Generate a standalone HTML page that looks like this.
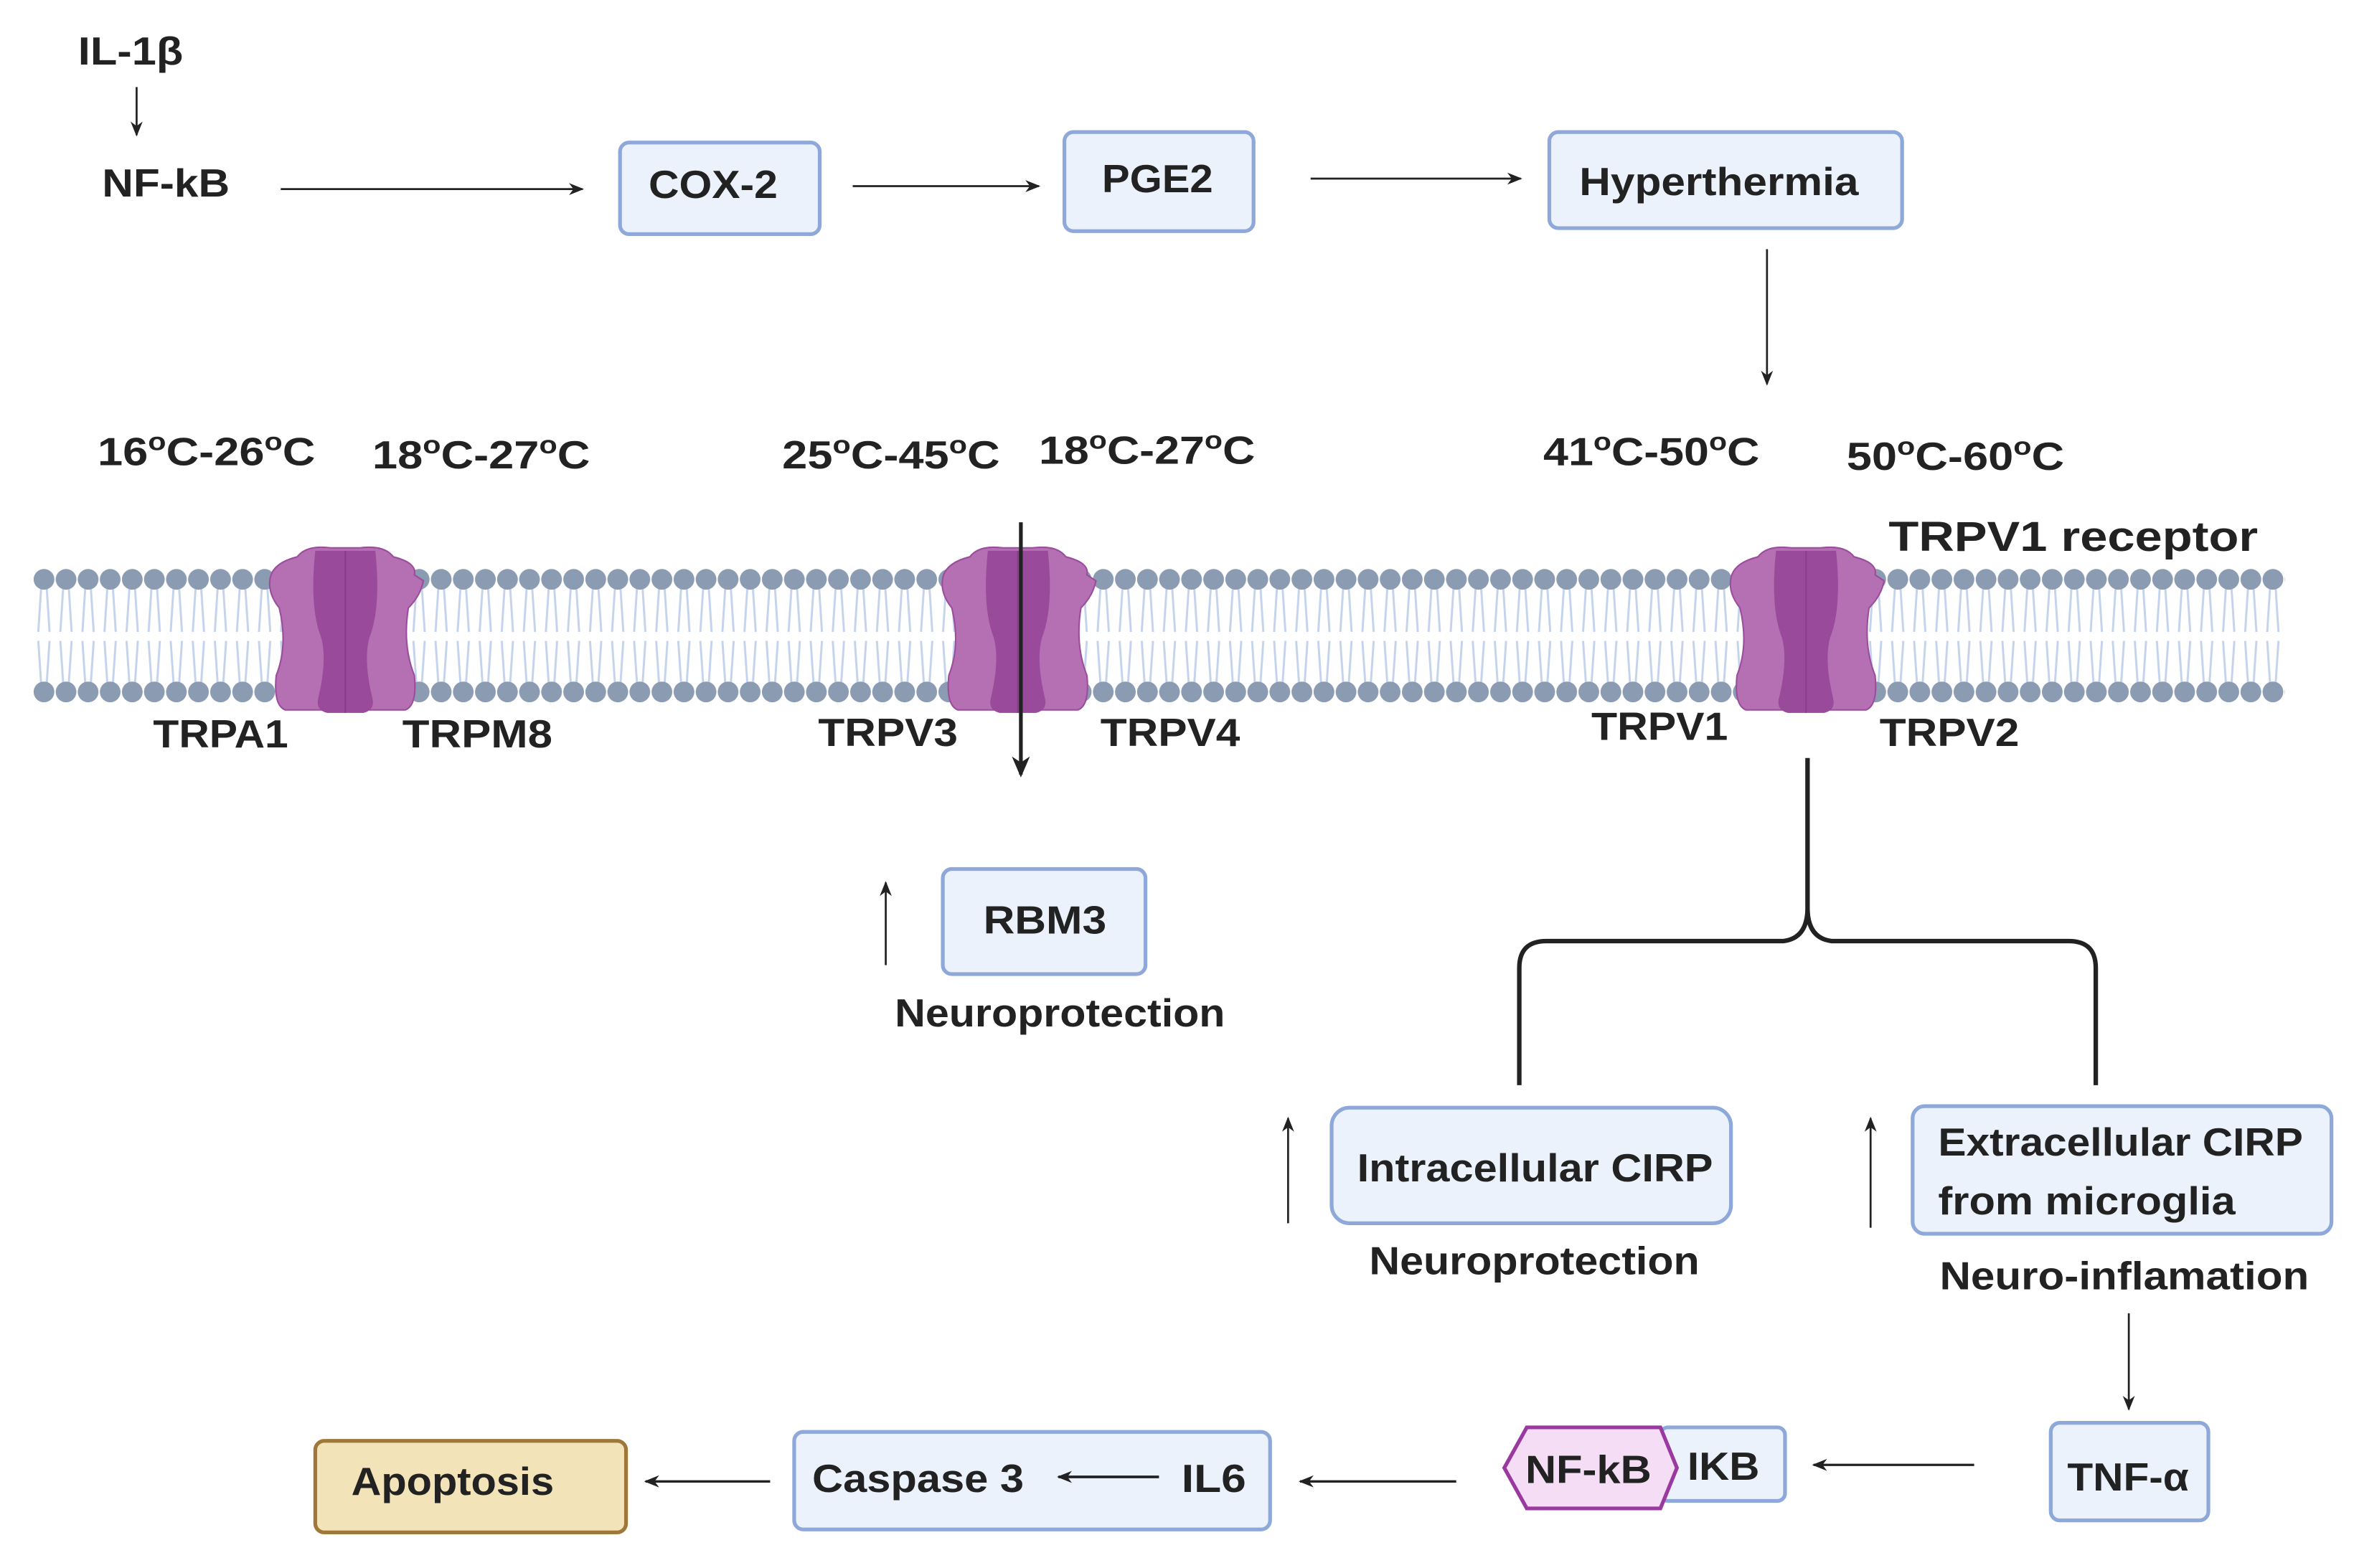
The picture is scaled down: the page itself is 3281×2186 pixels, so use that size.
<!DOCTYPE html>
<html><head><meta charset="utf-8"><style>
html,body{margin:0;padding:0;background:#fff}
svg{display:block}
text{font-family:"Liberation Sans",sans-serif;font-weight:bold;fill:#222}
</style></head><body>
<svg width="3281" height="2186" viewBox="0 0 1568 1044.7" xmlns="http://www.w3.org/2000/svg">
<defs>
<marker id="ah" markerWidth="10" markerHeight="10" refX="9" refY="5" orient="auto" markerUnits="userSpaceOnUse">
<path d="M0,1 L10,5 L0,9 L3,5 Z" fill="#222"/></marker>
<marker id="ah2" markerWidth="14" markerHeight="14" refX="12" refY="7" orient="auto" markerUnits="userSpaceOnUse">
<path d="M0,1 L14,7 L0,13 L4,7 Z" fill="#222"/></marker>
<pattern id="lip" x="22" y="0" width="14.7" height="1044.7" patternUnits="userSpaceOnUse">
<g stroke="#c3d3ec" stroke-width="1.4" fill="none">
<path d="M5.5,390 L3.5,421 M9,390 L11,421"/>
<path d="M3.5,427 L5.5,457 M11,427 L9,457"/>
</g>
<circle cx="7.3" cy="386" r="6.9" fill="#8a9bb2"/>
<circle cx="7.3" cy="461" r="6.9" fill="#8a9bb2"/>
</pattern>
<g id="ch">
<path d="M-50,-10 Q-48,-20 -32,-24 Q-26,-32 -10,-30 L10,-30 Q26,-32 32,-24 Q48,-20 46,-12 L52,-8 Q50,2 42,10 Q38,35 46,55 Q48,75 40,78 L-40,78 Q-48,75 -46,55 Q-38,35 -44,10 Q-52,0 -50,-10 Z" fill="#b470b2" stroke="#9c4c9c" stroke-width="1"/>
<path d="M-20,-28 L20,-28 Q24,10 16,30 Q12,45 18,70 Q20,78 12,80 L-12,80 Q-20,78 -18,70 Q-12,45 -16,30 Q-24,10 -20,-28 Z" fill="#9a4a9a"/>
<line x1="0" y1="-28" x2="0" y2="80" stroke="#8a3c8c" stroke-width="1"/>
</g>
</defs>
<rect width="1568" height="1044.7" fill="#fff"/>

<g font-size="26">
<text x="52" y="43" textLength="70" lengthAdjust="spacingAndGlyphs">IL-1β</text>
<text x="68" y="131" textLength="85" lengthAdjust="spacingAndGlyphs">NF-kB</text>
</g>
<line x1="91" y1="58" x2="91" y2="90" stroke="#222" stroke-width="1.3" marker-end="url(#ah)"/>
<line x1="187" y1="126" x2="388" y2="126" stroke="#222" stroke-width="1.3" marker-end="url(#ah)"/>
<rect x="413" y="95" width="133" height="61" rx="6" fill="#ebf2fc" stroke="#8ea8da" stroke-width="2.5"/>
<text x="432" y="132" font-size="26" textLength="86" lengthAdjust="spacingAndGlyphs">COX-2</text>
<line x1="568" y1="124" x2="692" y2="124" stroke="#222" stroke-width="1.3" marker-end="url(#ah)"/>
<rect x="709" y="88" width="126" height="66" rx="6" fill="#ebf2fc" stroke="#8ea8da" stroke-width="2.5"/>
<text x="734" y="128" font-size="26" textLength="74" lengthAdjust="spacingAndGlyphs">PGE2</text>
<line x1="873" y1="119" x2="1013" y2="119" stroke="#222" stroke-width="1.3" marker-end="url(#ah)"/>
<rect x="1032" y="88" width="235" height="64" rx="6" fill="#ebf2fc" stroke="#8ea8da" stroke-width="2.5"/>
<text x="1052" y="130" font-size="26" textLength="186" lengthAdjust="spacingAndGlyphs">Hyperthermia</text>
<line x1="1177" y1="166" x2="1177" y2="256" stroke="#222" stroke-width="1.3" marker-end="url(#ah)"/>

<g font-size="26">
<text x="65" y="310" textLength="145" lengthAdjust="spacingAndGlyphs">16<tspan font-size="17" dy="-10">o</tspan><tspan dy="10">C-26</tspan><tspan font-size="17" dy="-10">o</tspan><tspan dy="10">C</tspan></text>
<text x="248" y="312" textLength="145" lengthAdjust="spacingAndGlyphs">18<tspan font-size="17" dy="-10">o</tspan><tspan dy="10">C-27</tspan><tspan font-size="17" dy="-10">o</tspan><tspan dy="10">C</tspan></text>
<text x="521" y="312" textLength="145" lengthAdjust="spacingAndGlyphs">25<tspan font-size="17" dy="-10">o</tspan><tspan dy="10">C-45</tspan><tspan font-size="17" dy="-10">o</tspan><tspan dy="10">C</tspan></text>
<text x="692" y="309" textLength="144" lengthAdjust="spacingAndGlyphs">18<tspan font-size="17" dy="-10">o</tspan><tspan dy="10">C-27</tspan><tspan font-size="17" dy="-10">o</tspan><tspan dy="10">C</tspan></text>
<text x="1028" y="310" textLength="144" lengthAdjust="spacingAndGlyphs">41<tspan font-size="17" dy="-10">o</tspan><tspan dy="10">C-50</tspan><tspan font-size="17" dy="-10">o</tspan><tspan dy="10">C</tspan></text>
<text x="1230" y="313" textLength="145" lengthAdjust="spacingAndGlyphs">50<tspan font-size="17" dy="-10">o</tspan><tspan dy="10">C-60</tspan><tspan font-size="17" dy="-10">o</tspan><tspan dy="10">C</tspan></text>
</g>
<text x="1258" y="367" font-size="28" textLength="246" lengthAdjust="spacingAndGlyphs">TRPV1 receptor</text>

<rect x="22" y="376" width="1500" height="96" fill="url(#lip)"/>
<use href="#ch" x="230" y="395"/>
<use href="#ch" x="678" y="395"/>
<use href="#ch" x="1203" y="395"/>
<line x1="680" y1="348" x2="680" y2="516" stroke="#222" stroke-width="2.5" marker-end="url(#ah2)"/>

<g font-size="26">
<text x="102" y="498" textLength="90" lengthAdjust="spacingAndGlyphs">TRPA1</text>
<text x="268" y="498" textLength="100" lengthAdjust="spacingAndGlyphs">TRPM8</text>
<text x="545" y="497" textLength="93" lengthAdjust="spacingAndGlyphs">TRPV3</text>
<text x="733" y="497" textLength="93" lengthAdjust="spacingAndGlyphs">TRPV4</text>
<text x="1060" y="493" textLength="91" lengthAdjust="spacingAndGlyphs">TRPV1</text>
<text x="1252" y="497" textLength="93" lengthAdjust="spacingAndGlyphs">TRPV2</text>
</g>

<line x1="590" y1="643" x2="590" y2="588" stroke="#222" stroke-width="1.3" marker-end="url(#ah)"/>
<rect x="628" y="579" width="135" height="70" rx="6" fill="#ebf2fc" stroke="#8ea8da" stroke-width="2.5"/>
<text x="655" y="622" font-size="26" textLength="82" lengthAdjust="spacingAndGlyphs">RBM3</text>
<text x="596" y="684" font-size="26" textLength="220" lengthAdjust="spacingAndGlyphs">Neuroprotection</text>

<path d="M1204,505 L1204,605 Q1204,625 1188,627 L1030,627 Q1012,627 1012,645 L1012,723 M1204,605 Q1204,625 1220,627 L1378,627 Q1396,627 1396,645 L1396,723" fill="none" stroke="#222" stroke-width="3"/>

<line x1="858" y1="815" x2="858" y2="745" stroke="#222" stroke-width="1.3" marker-end="url(#ah)"/>
<rect x="887" y="738" width="266" height="77" rx="12" fill="#ebf2fc" stroke="#8ea8da" stroke-width="2.5"/>
<text x="904" y="787" font-size="26" textLength="237" lengthAdjust="spacingAndGlyphs">Intracellular CIRP</text>
<text x="912" y="849" font-size="26" textLength="220" lengthAdjust="spacingAndGlyphs">Neuroprotection</text>

<line x1="1246" y1="818" x2="1246" y2="745" stroke="#222" stroke-width="1.3" marker-end="url(#ah)"/>
<rect x="1274" y="737" width="279" height="85" rx="8" fill="#ebf2fc" stroke="#8ea8da" stroke-width="2.5"/>
<text x="1291" y="770" font-size="26" textLength="243" lengthAdjust="spacingAndGlyphs">Extracellular CIRP</text>
<text x="1291" y="809" font-size="26" textLength="198" lengthAdjust="spacingAndGlyphs">from microglia</text>
<text x="1292" y="859" font-size="26" textLength="246" lengthAdjust="spacingAndGlyphs">Neuro-inflamation</text>

<line x1="1418" y1="875" x2="1418" y2="939" stroke="#222" stroke-width="1.3" marker-end="url(#ah)"/>
<rect x="1366" y="948" width="105" height="65" rx="6" fill="#ebf2fc" stroke="#8ea8da" stroke-width="2.5"/>
<text x="1377" y="993" font-size="26" textLength="81" lengthAdjust="spacingAndGlyphs">TNF-α</text>

<line x1="1315" y1="976" x2="1208" y2="976" stroke="#222" stroke-width="1.6" marker-end="url(#ah)"/>
<rect x="1106" y="951" width="83" height="49" rx="5" fill="#ebf2fc" stroke="#8ea8da" stroke-width="2.5"/>
<polygon points="1017,951 1106,951 1117,978 1106,1005 1017,1005 1002,978" fill="#f5ddf5" stroke="#9a3aa0" stroke-width="2.5"/>
<text x="1016" y="988" font-size="26" textLength="84" lengthAdjust="spacingAndGlyphs">NF-kB</text>
<text x="1124" y="986" font-size="26" textLength="48" lengthAdjust="spacingAndGlyphs">IKB</text>

<line x1="970" y1="987" x2="866" y2="987" stroke="#222" stroke-width="1.6" marker-end="url(#ah)"/>
<rect x="529" y="954" width="317" height="65" rx="6" fill="#ebf2fc" stroke="#8ea8da" stroke-width="2.5"/>
<text x="541" y="994" font-size="26" textLength="141" lengthAdjust="spacingAndGlyphs">Caspase 3</text>
<line x1="772" y1="984" x2="705" y2="984" stroke="#222" stroke-width="1.8" marker-end="url(#ah)"/>
<text x="787" y="994" font-size="26" textLength="43" lengthAdjust="spacingAndGlyphs">IL6</text>

<line x1="513" y1="987" x2="430" y2="987" stroke="#222" stroke-width="1.6" marker-end="url(#ah)"/>
<rect x="210" y="960" width="207" height="61" rx="6" fill="#f3e3b9" stroke="#a0773a" stroke-width="2.5"/>
<text x="234" y="996" font-size="26" textLength="135" lengthAdjust="spacingAndGlyphs">Apoptosis</text>
</svg>
</body></html>
